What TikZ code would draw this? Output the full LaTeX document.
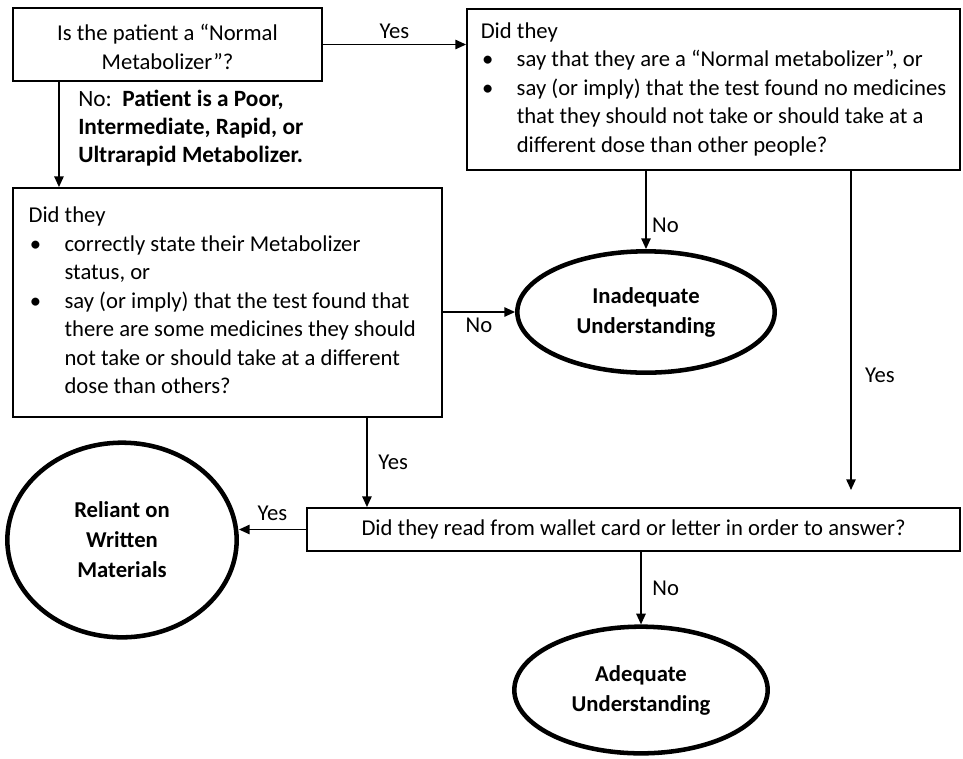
\documentclass[tikz,border=0pt]{standalone}
\usepackage{fontspec}
\setmainfont{Carlito}
\usetikzlibrary{shapes.geometric,arrows.meta}
\newcommand{\listdot}{\makebox[27pt][l]{\hspace{1pt}\textbullet}}
\newcommand{\listgap}{\hspace*{27pt}}
\begin{document}
\begin{tikzpicture}
[x=0.75pt,y=-0.75pt,
 every node/.style={font=\fontsize{17}{21.4}\selectfont},
 qbox/.style={draw,line width=1.4pt,inner sep=0pt},
 outcome/.style={draw,ellipse,line width=3.4pt,inner sep=0pt,align=center,
   font=\fontsize{17}{22.5}\selectfont\bfseries},
 arr/.style={line width=1.2pt,-{Triangle[length=8pt,width=7pt]}},
 lbl/.style={inner sep=4pt}]
  \useasboundingbox (0,0) rectangle (963,758);

  % questions
  \node[qbox,minimum width=231.75pt,minimum height=54.75pt] (normal) at (167.5,44.5)
    {\begin{tabular}{@{}c@{}}\rule{0pt}{22.5pt}Is the patient a “Normal\\Metabolizer”?\end{tabular}};
  \node[qbox,minimum width=369.75pt,minimum height=120.75pt] (saynormal) at (713.5,89.5)
    {\begin{tabular}{@{}l@{}}
      Did they\\
      \listdot say that they are a “Normal metabolizer”, or\\
      \listdot say (or imply) that the test found no medicines\\
      \listgap that they should not take or should take at a\\
      \listgap different dose than other people?
    \end{tabular}};
  \node[qbox,minimum width=321.75pt,minimum height=171.75pt] (saystatus) at (227.5,302.5)
    {\begin{tabular}{@{}l@{}}
      Did they\\
      \listdot correctly state their Metabolizer\\
      \listgap status, or\\
      \listdot say (or imply) that the test found that\\
      \listgap there are some medicines they should\\
      \listgap not take or should take at a different\\
      \listgap dose than others?
    \end{tabular}\hspace*{8pt}};
  \node[qbox,minimum width=489.75pt,minimum height=32.25pt] (readcard) at (633.5,529.5)
    {Did they read from wallet card or letter in order to answer?};

  % outcomes
  \node[outcome,minimum width=193pt,minimum height=91pt] (inadequate) at (646,312)
    {Inadequate\\Understanding};
  \node[outcome,minimum width=172pt,minimum height=146pt] (reliant) at (122,540)
    {Reliant on\\Written\\Materials};
  \node[outcome,minimum width=190pt,minimum height=95pt] (adequate) at (641,690)
    {Adequate\\Understanding};

  \node[anchor=west,inner sep=0pt,align=left,font=\fontsize{17.5}{21}\selectfont] (nolabel) at (78,128)
    {No:\ \ \textbf{Patient is a Poor,}\\\textbf{Intermediate, Rapid, or}\\\textbf{Ultrarapid Metabolizer.}};
  \coordinate (yesend) at (851,490);

  % arrows
  \draw[arr] (normal.east) -- (normal.east -| saynormal.west)
    node[lbl,midway,above] (yes1) {Yes};
  \draw[arr] ([xshift=-81.4pt]normal.south) -- ([xshift=-81.4pt]normal.south |- saystatus.north);
  \draw[arr] (saystatus.east |- inadequate) -- (inadequate.west)
    node[lbl,midway,below] (no2) {No};
  \draw[arr] (inadequate.north |- saynormal.south) -- (inadequate.north)
    node[lbl,pos=.7,right] (no1) {No};
  \draw[arr] (saynormal.south -| yesend) -- (yesend)
    node[lbl,pos=.64,right,xshift=6pt] (yes2) {Yes};
  \draw[arr] ([xshift=104.6pt]saystatus.south) -- ([xshift=104.6pt]saystatus.south |- readcard.north)
    node[lbl,midway,right,xshift=4pt] (yes3) {Yes};
  \draw[arr] (readcard.west) -- (readcard.west -| reliant.east)
    node[lbl,midway,above,yshift=2pt] (yes4) {Yes};
  \draw[arr] (adequate.north |- readcard.south) -- (adequate.north)
    node[lbl,midway,right,xshift=4pt] (no3) {No};
\end{tikzpicture}
\end{document}
